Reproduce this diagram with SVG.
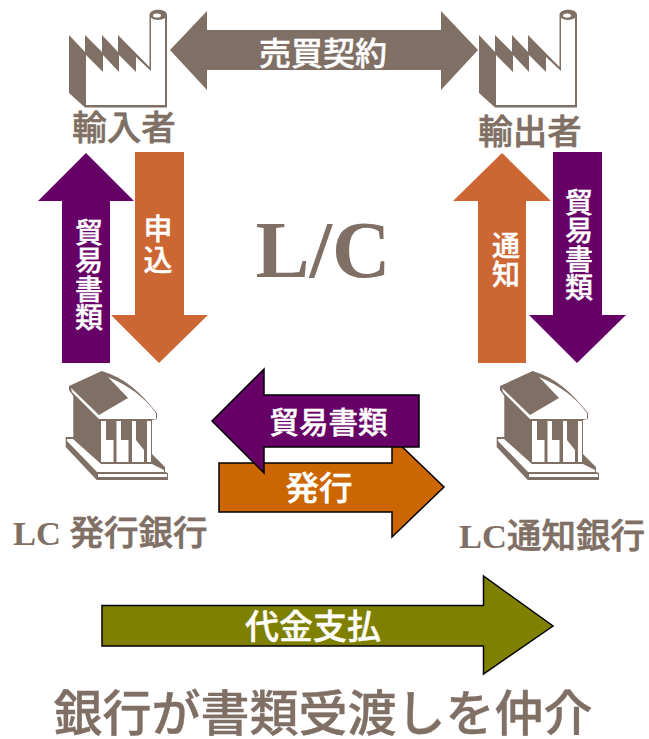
<svg xmlns="http://www.w3.org/2000/svg" width="649" height="739" viewBox="0 0 649 739">
<style>
text{font-family:"Noto Sans CJK JP","Liberation Sans",sans-serif;font-weight:500;text-anchor:middle}
.g{fill:#7f6f65}
.w{fill:#fff}
.l{fill:#fff;font-size:28px;stroke:#fff;stroke-width:.4}
.v{writing-mode:vertical-rl;letter-spacing:.5px}
.t{fill:#7f6f65;font-size:34.500px;stroke:#7f6f65;stroke-width:.6}
.n{text-anchor:start}
.s{font-family:"Liberation Serif",serif;font-weight:700;stroke:none}
.o{stroke:#000;stroke-width:1.5}
</style>
<defs>
<g id="factory">
<path class="g" d="M69 35L85 52V35L102 52V35L118 52V35L149.5 67V15C149.5 8 167 8 167 15V107.5H85L69 93Z"/>
<path class="w" d="M86 55L103 72V55L119 72V55L136 72V57L151 71V18C155 20.500 161 20.500 165 18V105H86Z"/>
<ellipse class="w" cx="157" cy="15.500" rx="4" ry="2"/>
</g>
<g id="bank">
<path class="g" d="M101.700 371L69 386V390L73.300 396V437H65.700V447L96.700 480H168V473L165 472V467L152 454V420L157 419V413C140 392 125 378 101.700 371Z"/>
<path class="w" d="M71 388L99 415L128 398L108 377C130 386 145 398 156 413V419H99L72 392Z"/>
<path class="w" d="M101 421H106V440H113.500V462H101Z"/>
<path class="w" d="M116.500 421H121V440H128.500V462H116.500Z"/>
<path class="w" d="M132 421H136V440L144 450V462H132Z"/>
<path class="w" d="M147 421H151V462H147Z"/>
<path class="w" d="M67 439H73L101 464H152L164 470V472H97L67 441Z"/>
<path class="w" d="M98 474H167V477H98Z"/>
</g>
</defs>
<g id="connectors">
<path id="a-sale" class="g" d="M170 50L207 11V30H441V11L478 50L441 90V70H207V90Z"/>
<path id="a-doc-l" fill="#660066" d="M86 153L134 201H110V363H62V201H38Z"/>
<path id="a-apply" fill="#cc6633" d="M135 152H184V315H208L159 363L111 315H135Z"/>
<path id="a-notify" fill="#cc6633" d="M502 153L551 201H526V363H478V201H453Z"/>
<path id="a-doc-r" fill="#660066" d="M553 152H602V315H626L577 363L529 315H553Z"/>
<path id="a-issue" class="o" fill="#cc6600" d="M219 463H392V437L444 487L392 537V512H219Z"/>
<path id="a-doc-m" class="o" fill="#660066" d="M212 421L264 369V395H419V447H264V473Z"/>
<path id="a-pay" class="o" fill="#808000" d="M102 605.500H483.500V576L553 626L483.500 674V646H102Z"/>
</g>
<g id="n-importer"><use href="#factory"/><text class="t" x="124" y="140">輸入者</text></g>
<g id="n-exporter"><use href="#factory" x="410"/><text class="t" x="530" y="144">輸出者</text></g>
<g id="n-ibank"><use href="#bank"/><text x="13" y="545" class="t n"><tspan class="s">LC </tspan>発行銀行</text></g>
<g id="n-abank"><use href="#bank" x="431"/><text x="459" y="548" class="t n"><tspan class="s">LC</tspan>通知銀行</text></g>
<g id="labels">
<text class="l" x="323" y="65" style="font-size:32px">売買契約</text>
<text class="l v" x="89" y="275">貿易書類</text>
<text class="l v" x="158" y="245.500" style="font-size:29px;letter-spacing:2px">申込</text>
<text class="l v" x="506" y="260">通知</text>
<text class="l v" x="579" y="245">貿易書類</text>
<text class="l" x="328.500" y="433" style="font-size:29.500px">貿易書類</text>
<text class="l" x="319" y="500" style="font-size:33.500px">発行</text>
<text class="l" x="313" y="639" style="font-size:34px">代金支払</text>
<text x="323" y="277" style="font-family:'Liberation Serif',serif;font-weight:700;font-size:81px" class="g">L/C</text>
<text x="323" y="731" style="font-size:49px;stroke:#7f6f65;stroke-width:.4" class="g">銀行が書類受渡しを仲介</text>
</g>
</svg>
